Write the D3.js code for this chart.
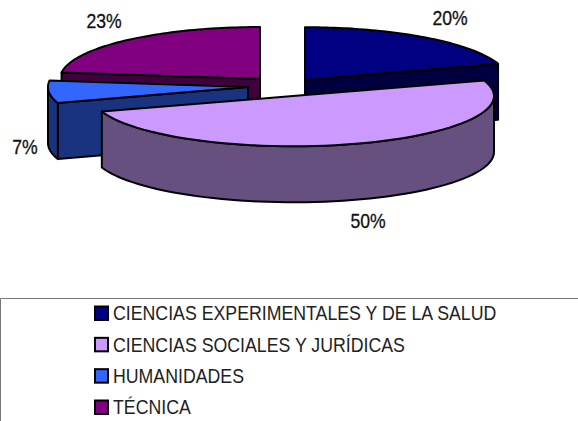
<!DOCTYPE html>
<html><head><meta charset="utf-8">
<script src="https://cdn.jsdelivr.net/npm/d3@7"></script>
<style>html,body{margin:0;padding:0;background:#fff;overflow:hidden}svg{display:block}</style>
</head><body><svg id="c" width="578" height="421"></svg>
<script>
const categories = ["CIENCIAS EXPERIMENTALES Y DE LA SALUD","CIENCIAS SOCIALES Y JURÍDICAS","HUMANIDADES","TÉCNICA"];
const values = [20,50,7,23];
const labels = ["20%","50%","7%","23%"];
const topColors = ["#000080","#CC99FF","#3366FF","#800080"];
const sideColors = ["#000040","#665080","#1A3380","#400040"];

const svg = d3.select("#c");
const centers = [[305,80],[293,96],[248,87],[260,79]];
const radii = [203,201,200,200];
const yRatios = [0.26,0.25,0.26,0.26], depth = 56;
const labelPos = [[450,18],[368,221],[25,147],[104,21]];

const arcs = d3.pie().sort(null).startAngle(0).endAngle(2*Math.PI)(values);
const line = d3.line();
const rimPts = (i,a0,a1) => {
  const n = 60, s = d3.scaleLinear().domain([0,n]).range([a0,a1]);
  return d3.range(n+1).map(k => {
    const p = d3.pointRadial(s(k), radii[i]);
    return [centers[i][0]+p[0], centers[i][1]+p[1]*yRatios[i]];
  });
};
const down = pts => pts.map(p => [p[0],p[1]+depth]);
const draw = (d,fill) => svg.append("path").attr("d",d).attr("fill",fill)
  .attr("stroke","#000").attr("stroke-width",2).attr("stroke-linejoin","round");

// painter order: back slices first
[3,0,2,1].forEach(i => {
  const a = arcs[i], c = centers[i];
  const edge = ang => {
    const r = rimPts(i,ang,ang)[0];
    return line([c,r,[r[0],r[1]+depth],[c[0],c[1]+depth]])+"Z";
  };
  if (Math.sin(a.startAngle) < -1e-6) draw(edge(a.startAngle), sideColors[i]);
  if (Math.sin(a.endAngle) > 1e-6) draw(edge(a.endAngle), sideColors[i]);
  const r0 = Math.max(a.startAngle, Math.PI/2), r1 = Math.min(a.endAngle, 3*Math.PI/2);
  if (r1 > r0) {
    const t = rimPts(i,r0,r1);
    draw(line(t.concat(down(t).reverse()))+"Z", sideColors[i]);
  }
  draw(line([c].concat(rimPts(i,a.startAngle,a.endAngle)))+"Z", topColors[i]);
});

svg.selectAll("text.pct").data(labels).join("text").attr("class","pct")
  .attr("transform",(d,i)=>`translate(${labelPos[i][0]},${labelPos[i][1]}) scale(0.88,1)`)
  .attr("text-anchor","middle").attr("dominant-baseline","central")
  .attr("font-family","Liberation Sans").attr("font-size",20).attr("fill","#111")
  .attr("stroke","#111").attr("stroke-width",0.3).text(d=>d);

// legend frame
svg.append("path").attr("d","M0.5,421V298.5H578").attr("fill","none").attr("stroke","#777").attr("stroke-width",1);
const y = d3.scalePoint().domain(categories).range([313.5,407.5]);
const g = svg.selectAll("g.leg").data(categories).join("g").attr("class","leg")
  .attr("transform",d=>`translate(0,${y(d)})`);
g.append("rect").attr("x",95).attr("y",-7).attr("width",13).attr("height",13.5)
  .attr("fill",(d,i)=>topColors[i]).attr("stroke","#000").attr("stroke-width",2);
g.append("text").attr("transform","translate(113,0) scale(0.91,1)").attr("dominant-baseline","central")
  .attr("font-family","Liberation Sans").attr("font-size",19.5).attr("fill","#222").text(d=>d);
</script></body></html>
